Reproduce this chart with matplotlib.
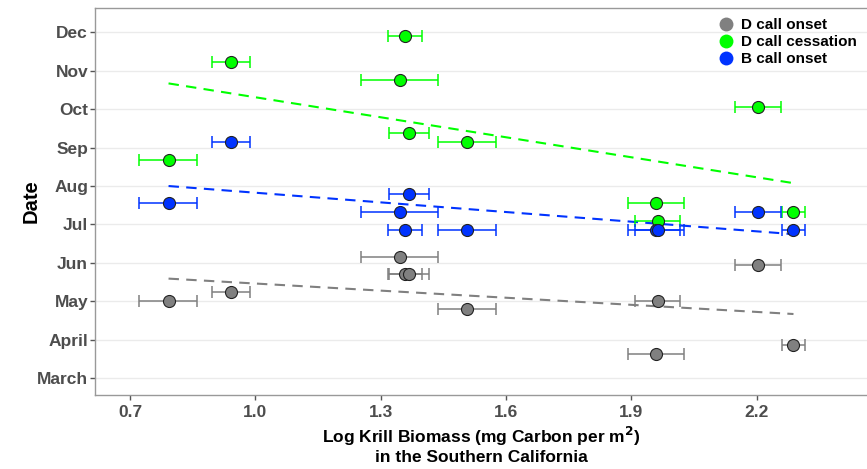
import numpy as np
import matplotlib
matplotlib.use("Agg")
import matplotlib.pyplot as plt
from matplotlib.lines import Line2D

plt.rcParams['font.family'] = ['Liberation Sans', 'DejaVu Sans']

# log krill biomass per year, with error bar ends
krill = [0.792, 0.942, 1.345, 1.357, 1.367, 1.507, 1.958, 1.963, 2.202, 2.288]
krill_lo = [0.722, 0.897, 1.253, 1.317, 1.320, 1.438, 1.892, 1.909, 2.147, 2.260]
krill_hi = [0.861, 0.988, 1.437, 1.398, 1.415, 1.576, 2.026, 2.017, 2.258, 2.316]

# dates as month numbers (3 = March ... 12 = Dec)
d_onset = [5.018, 5.252, 6.162, 5.705, 5.705, 4.794, 3.639, 5.018, 5.939, 3.873]
d_cessation = [8.686, 11.22, 10.76, 11.91, 9.38, 9.146, 7.56, 7.10, 10.065, 7.325]
b_onset = [7.551, 9.146, 7.325, 6.865, 7.786, 6.865, 6.865, 6.865, 7.325, 6.865]

month_labels = ["March", "April", "May", "Jun", "Jul", "Aug", "Sep", "Oct", "Nov", "Dec"]
month_ticks = [3, 4, 5, 6, 7, 8, 9, 10, 11, 12]
x_ticks = [0.7, 1.0, 1.3, 1.6, 1.9, 2.2]

series = [
    ("D call onset", d_onset, "#808080"),
    ("D call cessation", d_cessation, "#00ff00"),
    ("B call onset", b_onset, "#0033ff"),
]

fig = plt.figure(figsize=(8.67, 4.69), dpi=100)
ax = fig.add_axes([0.1096, 0.158, 0.8904, 0.825])

x = np.array(krill)
xerr = np.array([x - np.array(krill_lo), np.array(krill_hi) - x])

for name, y, col in series:
    ax.errorbar(x, y, xerr=xerr, fmt='none', ecolor=col, elinewidth=1.1,
                capsize=4, capthick=1.1, zorder=3)
    ax.scatter(x, y, s=75, color=col, edgecolor='#222222', linewidth=0.8, zorder=4)
    k, b = np.polyfit(x, y, 1)
    xs = np.array([x.min(), x.max()])
    ax.plot(xs, k * xs + b, color=col, linewidth=1.5, dashes=(5, 3.5), zorder=2)

ax.set_xlim(0.616, 2.464)
ax.set_ylim(2.566, 12.63)
ax.set_xticks(x_ticks)
ax.set_xticklabels(["%.1f" % v for v in x_ticks])
ax.set_yticks(month_ticks)
ax.set_yticklabels(month_labels)

ax.grid(axis='y', color='#ebebeb', linewidth=1.0)
ax.set_axisbelow(True)
for s in ['left', 'bottom', 'top']:
    ax.spines[s].set_color('#999999')
    ax.spines[s].set_linewidth(1.0)
ax.spines['right'].set_visible(False)
ax.tick_params(axis='both', colors='#555555', length=3.5, width=1.0)
ax.tick_params(axis='both', labelcolor='#4d4d4d', labelsize=12.5)
ax.tick_params(axis='y', pad=1.5)
for lbl in ax.get_xticklabels() + ax.get_yticklabels():
    lbl.set_fontweight('bold')

ax.set_ylabel("Date", fontsize=14.5, fontweight='bold', labelpad=-3)
ax.set_xlabel(r"Log Krill Biomass (mg Carbon per m$^{\mathbf{2}}$)" + "\nin the Southern California",
              fontsize=12.5, fontweight='bold', linespacing=1.15, labelpad=4)

handles = [Line2D([], [], marker='o', linestyle='none', markersize=10,
                  markerfacecolor=col, markeredgewidth=0, label=name)
           for name, y, col in series]
ax.legend(handles=handles, loc='upper right', bbox_to_anchor=(1.0, 1.0),
          frameon=False, prop={'weight': 'bold', 'size': 11},
          handletextpad=0.2, labelspacing=0.2, borderaxespad=0.25,
          handlelength=1.6)

fig.savefig("out.png", dpi=100)
